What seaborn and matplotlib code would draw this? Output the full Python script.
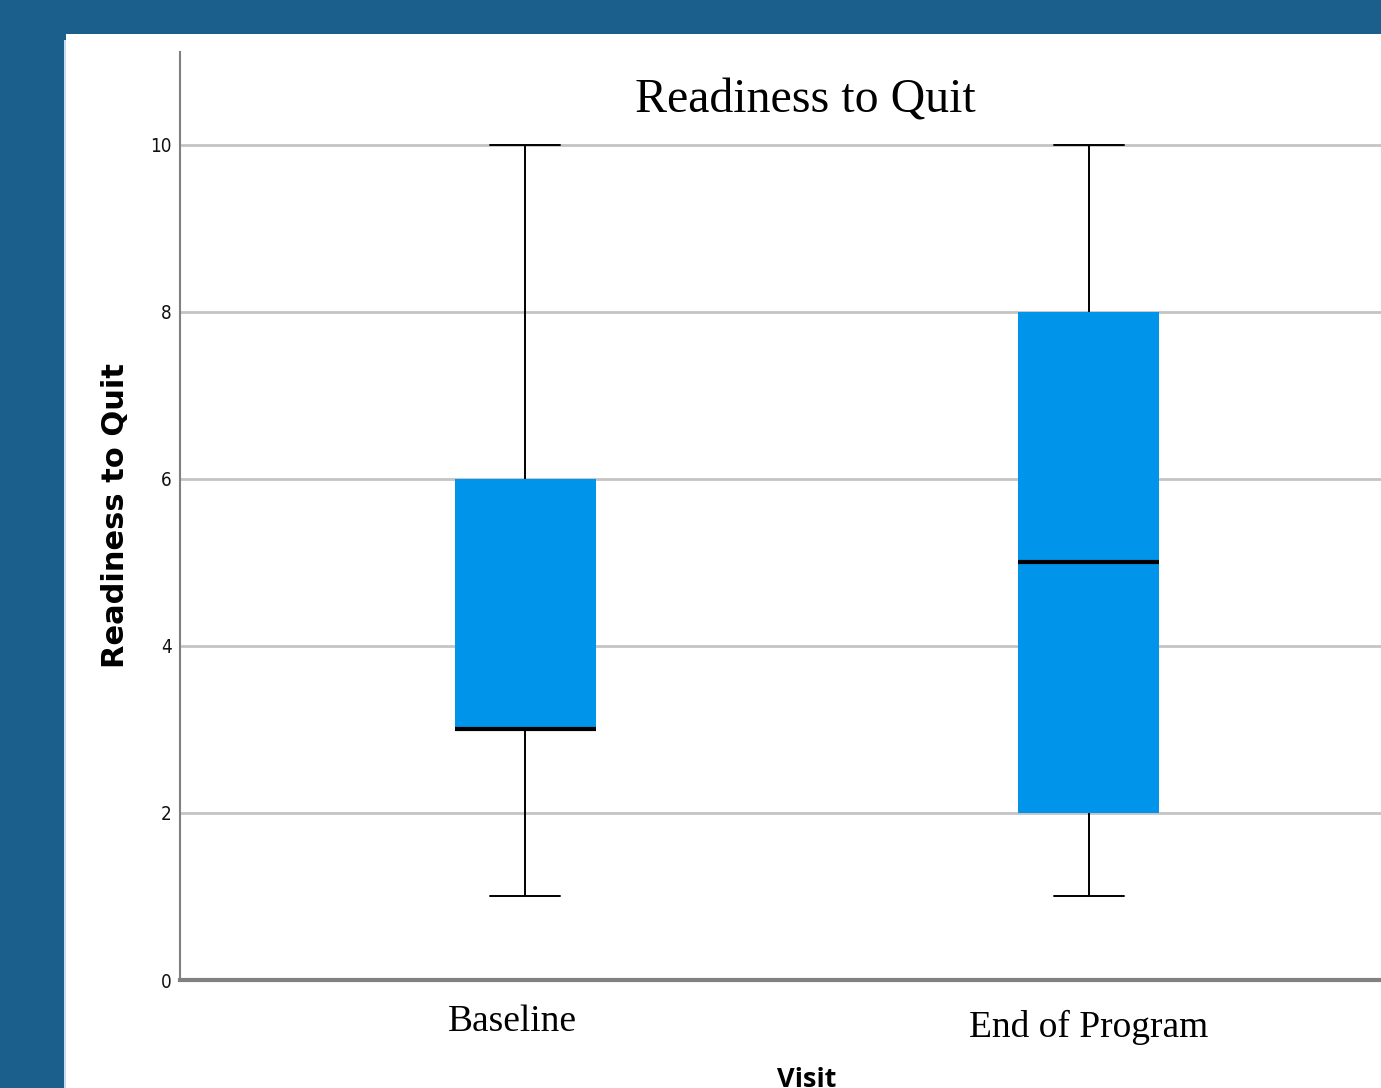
import matplotlib
matplotlib.use("Agg")
import matplotlib.pyplot as plt
from matplotlib.patches import Rectangle
from matplotlib.transforms import ScaledTranslation
import pandas as pd
import seaborn as sns

# Five-number summaries of readiness scores (min, Q1, median, Q3, max) per visit
visits = ["Baseline", "End of Program"]
baseline_scores = [1, 3, 3, 6, 10]
end_program_scores = [1, 2, 5, 8, 10]
y_ticks = [0, 2, 4, 6, 8, 10]

df = pd.DataFrame({
    "Visit": [visits[0]] * len(baseline_scores) + [visits[1]] * len(end_program_scores),
    "Readiness to Quit": baseline_scores + end_program_scores,
})

sns.set_theme(style="white")
W, H = 1381, 1088
fig = plt.figure(figsize=(W / 100, H / 100), dpi=100)
fig.patch.set_facecolor("#1B5F8C")

# white slide panel
fig.patches.append(Rectangle((64 / W, 0), 2 / W, 1 - 40 / H, transform=fig.transFigure,
                             facecolor="#C9DCF0", edgecolor="none", zorder=-10))
fig.patches.append(Rectangle((66 / W, 0), 1 - 66 / W, 1 - 34 / H, transform=fig.transFigure,
                             facecolor="white", edgecolor="none", zorder=-10))

ax = fig.add_axes([180 / W, 108 / H, 1 - 180 / W, 928 / H])
ax.set_facecolor("none")

box_color = "#0094EA"
sns.boxplot(
    data=df, x="Visit", y="Readiness to Quit", order=visits, ax=ax,
    width=0.25, color=box_color, linecolor="black", whis=1.5, saturation=1,
    boxprops=dict(facecolor=box_color, edgecolor=box_color, linewidth=0),
    medianprops=dict(color="black", linewidth=3),
    whiskerprops=dict(color="black", linewidth=1.4),
    capprops=dict(color="black", linewidth=1.4),
)

ax.set_xlim(-0.612, 1.518)
ax.set_ylim(0, 11.11)
ax.set_yticks(y_ticks)
ax.yaxis.grid(True, color="#C4C4C4", linewidth=2)
ax.set_axisbelow(True)
ax.tick_params(axis="y", length=0, pad=6)
ax.tick_params(axis="x", length=0, pad=20)

for lab in ax.get_yticklabels():
    lab.set_fontfamily("DejaVu Sans")
    lab.set_fontstretch("condensed")
    lab.set_fontsize(13.5)
    lab.set_color("#111111")

# category labels, each nudged slightly as in the layout
label_offsets = [(-13, 3), (0, -2)]
for lab, (dx, dy) in zip(ax.get_xticklabels(), label_offsets):
    lab.set_fontfamily("Liberation Serif")
    lab.set_fontsize(27)
    lab.set_color("black")
    lab.set_transform(lab.get_transform() + ScaledTranslation(dx / 100, dy / 100, fig.dpi_scale_trans))

for side in ["top", "right"]:
    ax.spines[side].set_visible(False)
ax.spines["left"].set_color("#808080")
ax.spines["left"].set_linewidth(1.5)
ax.spines["bottom"].set_color("#808080")
ax.spines["bottom"].set_linewidth(3)

ax.set_ylabel("Readiness to Quit", fontfamily="DejaVu Sans", fontweight="bold",
              fontsize=22, color="black")
ax.yaxis.set_label_coords((116 - 180) / (W - 180), (980 - 516) / 928)
ax.yaxis.label.set_va("center")
ax.set_xlabel("Visit", fontfamily="Open Sans", fontweight="bold",
              fontsize=19.5, color="black")
ax.xaxis.set_label_coords((807 - 180) / (W - 180), -(1067 - 980) / 928)
ax.xaxis.label.set_va("top")

fig.text(805 / W, 1 - 100 / H, "Readiness to Quit", fontfamily="Liberation Serif",
         fontsize=34.5, ha="center", va="center", color="black")

fig.savefig("out.png", dpi=100, facecolor=fig.get_facecolor())
